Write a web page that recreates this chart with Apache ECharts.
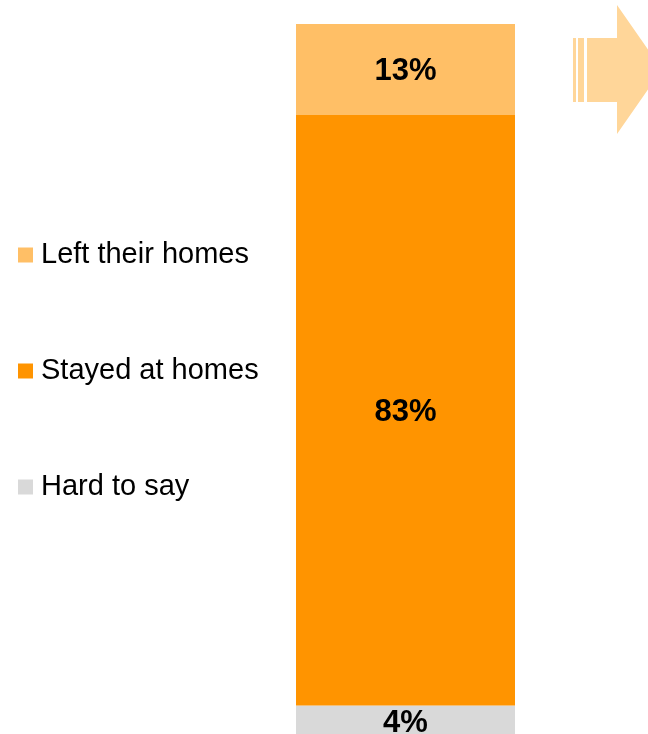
<!DOCTYPE html>
<html>
<head>
<meta charset="utf-8">
<script src="https://cdn.jsdelivr.net/npm/echarts@6/dist/echarts.min.js"></script>
<style>html,body{margin:0;padding:0;background:#fff}#c{width:648px;height:734px}</style>
</head>
<body>
<div id="c"></div>
<script>
const categories = ['Total'];
const seriesNames = ['Hard to say', 'Stayed at homes', 'Left their homes'];
const hardToSay = [4.0];
const stayed = [83.2];
const leftHomes = [12.8];
const legendOrder = ['Left their homes', 'Stayed at homes', 'Hard to say'];
const colors = {'Hard to say': '#D9D9D9', 'Stayed at homes': '#FF9400', 'Left their homes': '#FFBF66'};

const dataByName = {'Hard to say': hardToSay, 'Stayed at homes': stayed, 'Left their homes': leftHomes};
const chart = echarts.init(document.getElementById('c'), null, {renderer: 'canvas'});
const font = 'Liberation Sans, Arial, sans-serif';
chart.setOption({
  animation: false,
  grid: {left: 296, width: 219, top: 24, bottom: 0},
  xAxis: {type: 'category', data: categories, show: false},
  yAxis: {type: 'value', min: 0, max: 100, show: false},
  legend: {
    orient: 'vertical', left: 18, top: 239, padding: 0,
    itemWidth: 15, itemHeight: 15, itemGap: 84, icon: 'rect',
    data: legendOrder,
    textStyle: {fontFamily: font, fontSize: 29, color: '#000', lineHeight: 32, padding: [0, 0, 0, 3]}
  },
  series: seriesNames.map(n => ({
    name: n, type: 'bar', stack: 'all', barWidth: '100%',
    data: dataByName[n],
    itemStyle: {color: colors[n]},
    label: {show: true, position: 'inside', offset: [0, n === 'Hard to say' ? 4 : 2], color: '#000', fontFamily: font, fontWeight: 'bold', fontSize: 31,
      formatter: p => Math.round(p.value) + '%'}
  })),
  graphic: [
    {type: 'rect', shape: {x: 573, y: 38, width: 3, height: 64}, style: {fill: '#FFD699'}},
    {type: 'rect', shape: {x: 578, y: 38, width: 6, height: 64}, style: {fill: '#FFD699'}},
    {type: 'polygon', shape: {points: [[587, 38], [617, 38], [617, 5], [662, 69.5], [617, 134], [617, 102], [587, 102]]}, style: {fill: '#FFD699'}}
  ]
});
</script>
</body>
</html>
